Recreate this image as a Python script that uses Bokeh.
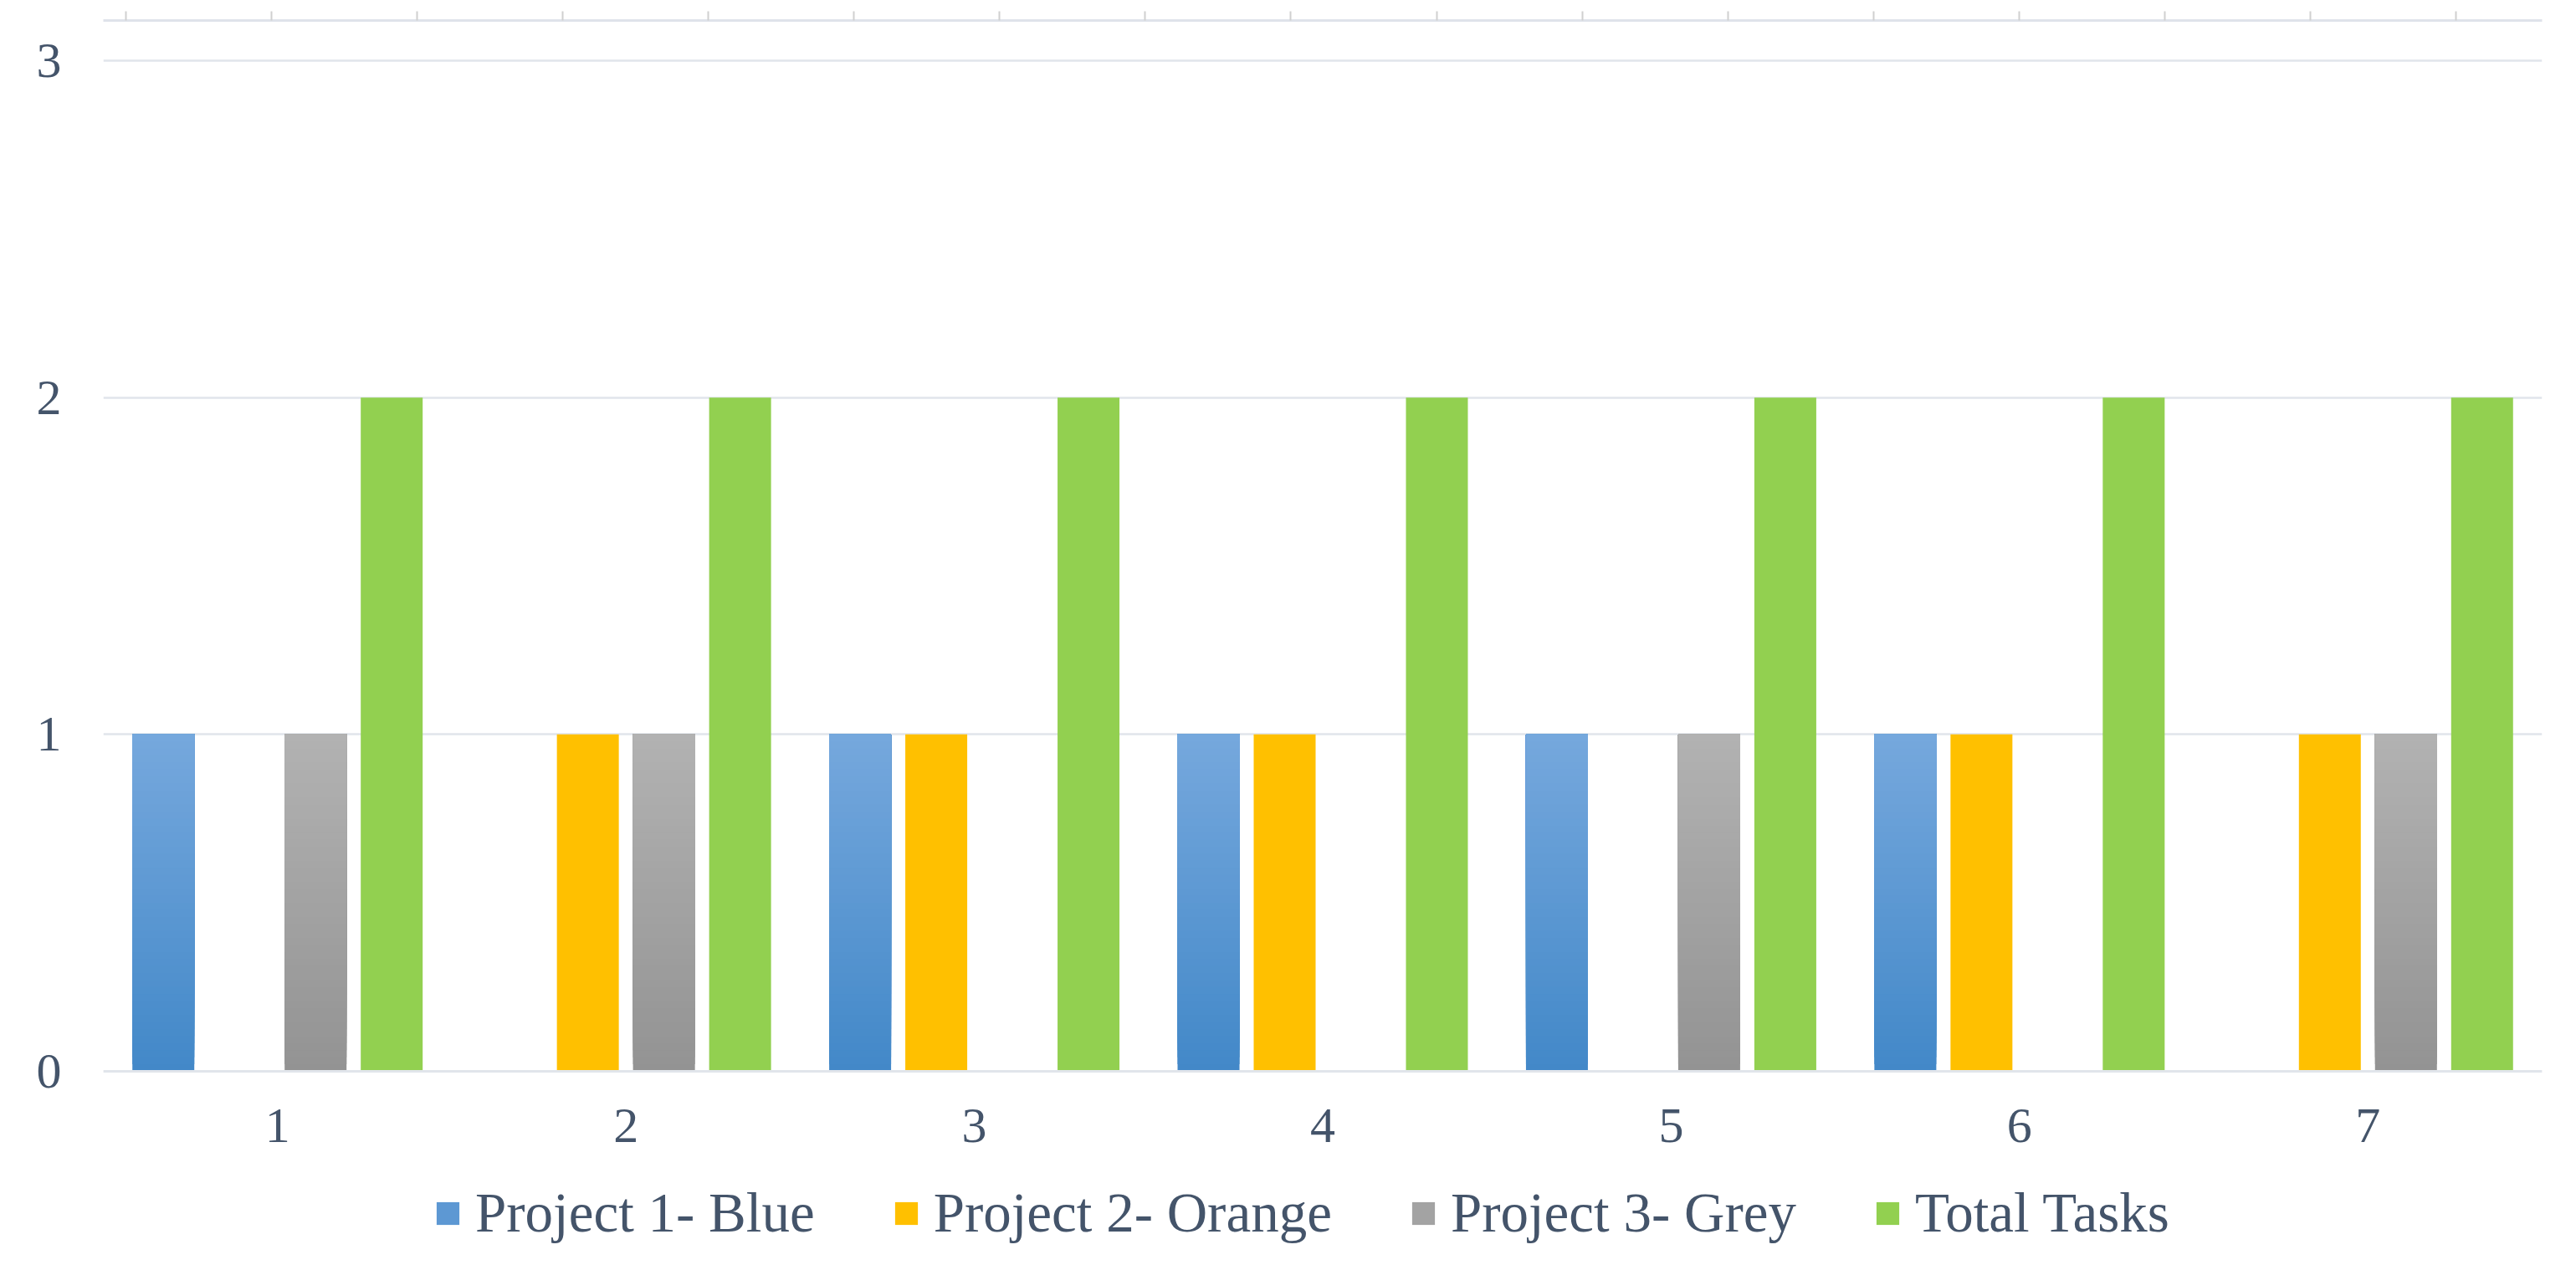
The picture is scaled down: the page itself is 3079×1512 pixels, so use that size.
import numpy as np
from bokeh.plotting import figure
from bokeh.models import (ColumnDataSource, Range1d, LinearAxis,
                          FixedTicker, Legend, LegendItem)
from bokeh.embed import file_html
from bokeh.resources import INLINE

# ---- data ----
categories = ["1", "2", "3", "4", "5", "6", "7"]
series_names = ["Project 1- Blue", "Project 2- Orange", "Project 3- Grey", "Total Tasks"]
project1_blue = [1, 0, 1, 1, 1, 1, 0]
project2_orange = [0, 1, 1, 1, 0, 1, 1]
project3_grey = [1, 1, 0, 0, 1, 0, 1]
total_tasks = [2, 2, 2, 2, 2, 2, 2]
y_ticks = [0, 1, 2, 3]

# ---- styling ----
TEXT = "#44546a"
FONT = "Liberation Serif"
GRID = "#e1e5eb"
BAR_W = 0.1777
STEP = 0.2185
offsets = [-1.5 * STEP, -0.5 * STEP, 0.5 * STEP, 1.5 * STEP]
# (bottom colour, top colour) for a vertical gradient
grads = [("#4288c8", "#76a8dd"), ("#ffc000", "#ffc000"),
         ("#939393", "#b2b2b2"), ("#92d050", "#92d050")]
NSL = 48

cat_pos = [i + 0.5 for i in range(len(categories))]

# frame reaches the bottom of the page so the legend sits inside it;
# the category axis is pinned at y = 0
p = figure(width=3063, height=1496, x_range=Range1d(0, len(categories)),
           y_range=Range1d(-0.5364, 3.1192), output_backend="svg",
           toolbar_location=None,
           min_border_left=123, min_border_right=25, min_border_top=24,
           min_border_bottom=0)
p.outline_line_color = None
p.background_fill_color = "white"
p.xgrid.grid_line_color = None
p.ygrid.grid_line_color = GRID
p.ygrid.grid_line_width = 2.5
p.ygrid.ticker = FixedTicker(ticks=y_ticks)

# y axis
p.yaxis.ticker = FixedTicker(ticks=y_ticks)
p.yaxis.axis_line_color = None
p.yaxis.major_tick_line_color = None
p.yaxis.major_tick_out = 0
p.yaxis.major_tick_in = 0
p.yaxis.minor_tick_line_color = None
p.yaxis.major_label_text_font = FONT
p.yaxis.major_label_text_font_size = "60px"
p.yaxis.major_label_text_color = TEXT
p.yaxis.major_label_standoff = 50

# x axis (category labels), pinned at y = 0
p.xaxis.fixed_location = 0
p.xaxis.ticker = FixedTicker(ticks=cat_pos)
p.xaxis.major_label_overrides = {pos: c for pos, c in zip(cat_pos, categories)}
p.xaxis.axis_line_color = GRID
p.xaxis.axis_line_width = 3
p.xaxis.major_tick_line_color = None
p.xaxis.major_tick_out = 0
p.xaxis.major_tick_in = 0
p.xaxis.minor_tick_line_color = None
p.xaxis.major_label_text_font = FONT
p.xaxis.major_label_text_font_size = "60px"
p.xaxis.major_label_text_color = TEXT
p.xaxis.major_label_standoff = 45

# secondary (top) axis with tick marks only
p.extra_x_ranges = {"top": Range1d(-0.1551, 16.592)}
top_axis = LinearAxis(x_range_name="top", ticker=FixedTicker(ticks=list(range(17))),
                      axis_line_color="#dfe3ea", axis_line_width=3,
                      major_tick_line_color="#d0d0d0", major_tick_line_width=2,
                      major_tick_out=11, major_tick_in=0,
                      minor_tick_line_color=None,
                      major_label_overrides={i: "" for i in range(17)},
                      major_label_text_font_size="1px", major_label_standoff=0)
p.add_layout(top_axis, "above")


def hex2rgb(h):
    h = h.lstrip("#")
    return np.array([int(h[i:i + 2], 16) for i in (0, 2, 4)], dtype=float)


def rgb2hex(c):
    return "#%02x%02x%02x" % tuple(int(round(v)) for v in c)


series_values = [project1_blue, project2_orange, project3_grey, total_tasks]
items = []
for name, vals, off, (c0, c1) in zip(series_names, series_values, offsets, grads):
    a, b = hex2rgb(c0), hex2rgb(c1)
    xs, bottoms, tops, cols = [], [], [], []
    n = NSL if c0 != c1 else 1
    for pos, v in zip(cat_pos, vals):
        for k in range(n):
            f = k / n
            xs.append(pos + off)
            bottoms.append(v * f)
            tops.append(v)
            cols.append(rgb2hex(a + (b - a) * (f + 0.5 / n)))
    src = ColumnDataSource(dict(x=xs, bottom=bottoms, top=tops, color=cols))
    r = p.vbar(x="x", bottom="bottom", top="top",
               width=BAR_W, fill_color="color", line_color=None, source=src)
    items.append(LegendItem(label=name, renderers=[r], index=(n // 2)))

legend = Legend(items=items, orientation="horizontal", location=(395, 8),
                label_text_font=FONT, label_text_font_size="67px",
                label_text_color=TEXT, glyph_width=34, glyph_height=34,
                label_standoff=16, spacing=92, padding=0, margin=0,
                border_line_color=None, background_fill_alpha=0)
p.add_layout(legend)

open("out.html", "w").write(file_html(p, INLINE))
